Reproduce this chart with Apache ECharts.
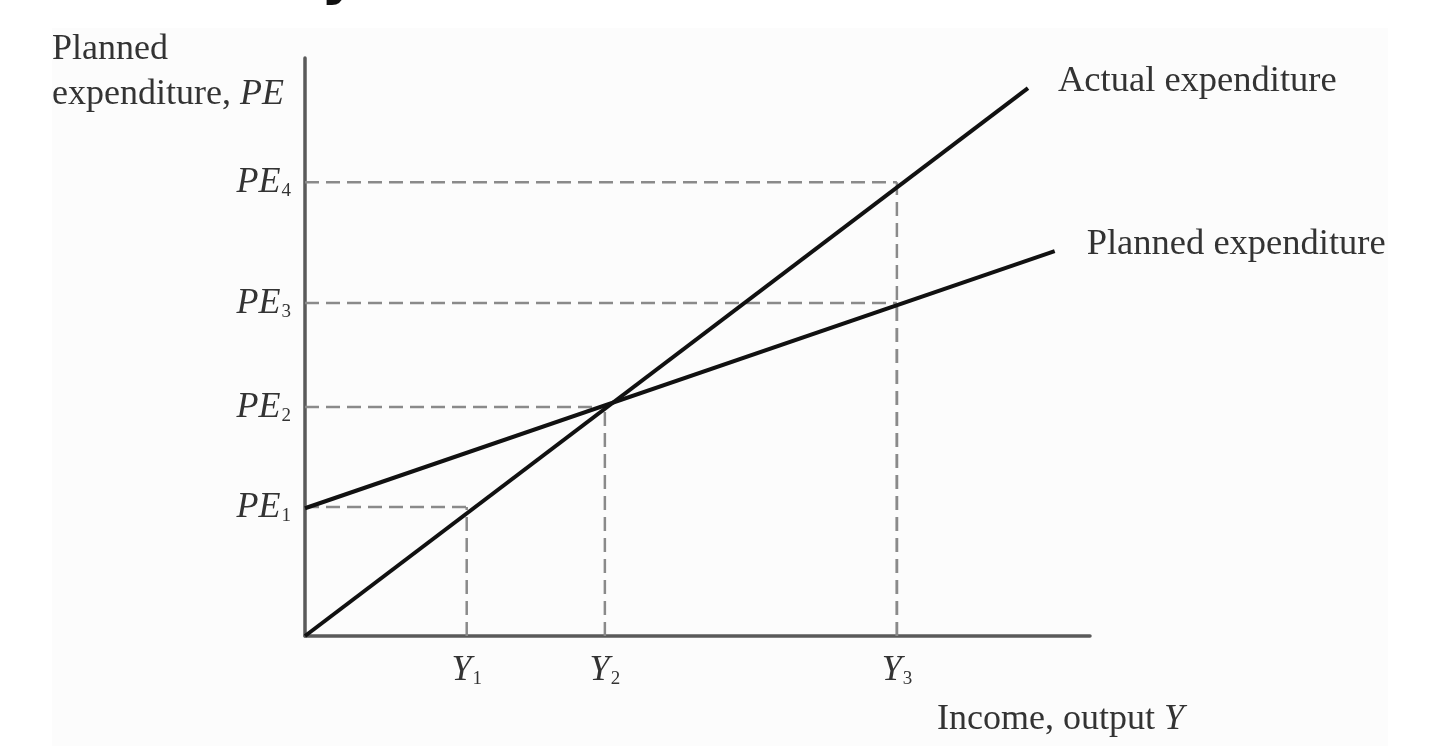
<!DOCTYPE html>
<html>
<head>
<meta charset="utf-8">
<script src="https://cdn.jsdelivr.net/npm/echarts@6/dist/echarts.min.js"></script>
<style>
  html, body { margin: 0; padding: 0; background: #fff; }
  #chart { width: 1440px; height: 754px; }
</style>
</head>
<body>
<div id="chart"></div>
<script>
// values (axis units 0..100)
const incomeTicks = [20.6, 38.2, 75.4];          // Y1, Y2, Y3
const incomeSubs = ['1', '2', '3'];
const spendTicks = [22.3, 39.6, 57.6, 78.5];     // PE1..PE4
const spendSubs = ['1', '2', '3', '4'];

const actualX = [0, 92.1];
const actualY = [0, 94.8];
const plannedX = [0, 95.5];
const plannedY = [22.1, 66.6];

// dashed guide corners
const guideX = [20.6, 38.2, 75.4, 75.4];
const guideY = [22.3, 39.6, 57.6, 78.5];

const serif = 'Liberation Serif';
const txt = '#333';

let series = [];
// dashed guides
guideX.forEach((gx, i) => {
    let gy = guideY[i];
    series.push({
        type: 'line', silent: true, symbol: 'none', z: 1,
        lineStyle: { color: '#8a8a8a', width: 2.5, type: [14, 7] },
        data: [[0, gy], [gx, gy]]
    });
    series.push({
        type: 'line', silent: true, symbol: 'none', z: 1,
        lineStyle: { color: '#8a8a8a', width: 2.5, type: [14, 7] },
        data: [[gx, 0], [gx, gy]]
    });
});

series.push({
    name: 'Actual expenditure',
    type: 'line', symbol: 'none', z: 3,
    lineStyle: { color: '#111', width: 4 },
    data: actualX.map((x, i) => [x, actualY[i]]),
    endLabel: {
        show: true, formatter: '{a}', distance: 30, offset: [0, -7],
        color: txt, fontFamily: serif, fontSize: 36.5
    }
});
series.push({
    name: 'Planned expenditure',
    type: 'line', symbol: 'none', z: 3,
    lineStyle: { color: '#111', width: 4 },
    data: plannedX.map((x, i) => [x, plannedY[i]]),
    endLabel: {
        show: true, formatter: '{a}', distance: 32, offset: [0, -7],
        color: txt, fontFamily: serif, fontSize: 36.5
    }
});

const richSub = {
    i: { fontFamily: serif, fontStyle: 'italic', fontSize: 36, lineHeight: 36, color: txt, verticalAlign: 'top' },
    s: { fontFamily: serif, fontSize: 19, lineHeight: 20, color: txt, verticalAlign: 'bottom', padding: [18, 0, 0, 1] }
};

var myChart = echarts.init(document.getElementById('chart'));
myChart.setOption({
    animation: false,
    backgroundColor: '#fff',
    grid: { left: 305, top: 58, right: 350, bottom: 118 },
    xAxis: {
        type: 'value', min: 0, max: 100,
        splitLine: { show: false },
        axisTick: { show: false },
        axisLine: { show: true, lineStyle: { color: '#5a5a5a', width: 3.5 } },
        axisLabel: {
            customValues: incomeTicks,
            margin: 17,
            formatter: v => '{i|Y}{s|' + incomeSubs[incomeTicks.indexOf(v)] + '}',
            rich: richSub
        }
    },
    yAxis: {
        type: 'value', min: 0, max: 100,
        splitLine: { show: false },
        axisTick: { show: false },
        axisLine: { show: true, lineStyle: { color: '#5a5a5a', width: 3.5 } },
        axisLabel: {
            customValues: spendTicks,
            margin: 14,
            formatter: v => '{i|PE}{s|' + spendSubs[spendTicks.indexOf(v)] + '}',
            rich: richSub
        }
    },
    graphic: [
        {
            type: 'rect', z: -10, silent: true,
            shape: { x: 52, y: 28, width: 1336, height: 718 },
            style: { fill: '#fcfcfc' }
        },
        {
            // cut-off title above the panel
            type: 'text', left: 321, top: -50, silent: true,
            style: { text: 'y', font: 'bold 56px "DejaVu Sans"', fill: '#111' }
        },
        {
            type: 'text', left: 52, top: 32, silent: true,
            style: {
                text: '{n|Planned}\n{n|expenditure, }{i|PE}',
                rich: {
                    n: { fontFamily: serif, fontSize: 36, fill: txt, lineHeight: 45 },
                    i: { fontFamily: serif, fontStyle: 'italic', fontSize: 36, fill: txt, lineHeight: 45 }
                }
            }
        },
        {
            type: 'text', left: 937, top: 702, silent: true,
            style: {
                text: '{n|Income, output }{i|Y}',
                rich: {
                    n: { fontFamily: serif, fontSize: 36, fill: txt },
                    i: { fontFamily: serif, fontStyle: 'italic', fontSize: 36, fill: txt }
                }
            }
        }
    ],
    series: series
});
window.addEventListener('resize', () => {
    myChart.resize();
});
</script>
</body>
</html>
